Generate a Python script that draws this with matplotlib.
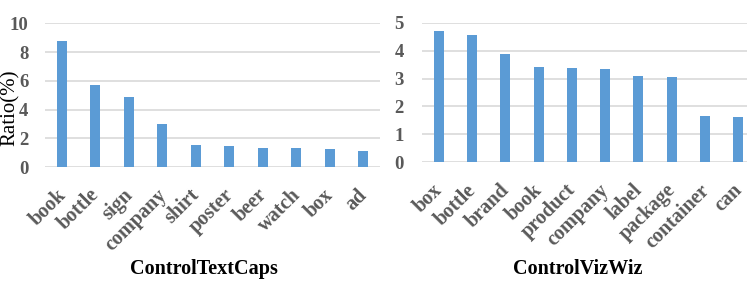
import matplotlib
matplotlib.use("Agg")
import matplotlib.pyplot as plt
from matplotlib.transforms import ScaledTranslation

left_cats = ["book", "bottle", "sign", "company", "shirt", "poster", "beer", "watch", "box", "ad"]
left_vals = [8.77, 5.70, 4.84, 2.98, 1.51, 1.49, 1.35, 1.33, 1.26, 1.12]
right_cats = ["box", "bottle", "brand", "book", "product", "company", "label", "package", "container", "can"]
right_vals = [4.70, 4.57, 3.89, 3.40, 3.38, 3.35, 3.08, 3.04, 1.66, 1.63]
left_yticks = [0, 2, 4, 6, 8, 10]
right_yticks = [0, 1, 2, 3, 4, 5]

BAR = "#5b9bd5"
GRID = "#d9d9d9"
TICK = "#595959"
SERIF = ["Liberation Serif", "DejaVu Serif"]

fig = plt.figure(figsize=(7.47, 3.0), dpi=100)

axL = fig.add_axes([45/747, 1-167/300, 335/747, (167-23.3)/300])
axR = fig.add_axes([422/747, 1-162.3/300, 333/747, (162.3-22.7)/300])

def style(ax, cats, vals, yticks, ypad, dx, dy):
    x = list(range(len(cats)))
    ax.bar(x, vals, width=0.3, color=BAR, zorder=3)
    ax.set_xlim(-0.5, len(cats) - 0.5)
    ax.set_ylim(yticks[0], yticks[-1])
    ax.set_yticks(yticks)
    ax.set_yticklabels([str(t) for t in yticks], fontfamily=SERIF, fontweight="bold",
                       fontsize=13.5, color=TICK)
    ax.set_xticks(x)
    ax.set_xticklabels([])
    tr = ax.get_xaxis_transform() + ScaledTranslation(dx/100, dy/100, fig.dpi_scale_trans)
    for xi, c in zip(x, cats):
        ax.text(xi, 0, c, transform=tr, rotation=45, ha="right", va="top",
                rotation_mode="anchor", fontfamily=SERIF, fontweight="bold",
                fontsize=14.5, color=TICK, clip_on=False)
    ax.tick_params(axis="both", length=0)
    ax.tick_params(axis="y", pad=ypad)
    for s in ax.spines.values():
        s.set_visible(False)
    ax.yaxis.grid(True, color=GRID, linewidth=1.2, zorder=0)
    ax.set_axisbelow(True)

style(axL, left_cats, left_vals, left_yticks, 12, -6, -18)
style(axR, right_cats, right_vals, right_yticks, 13, -6, -18)

fig.text(1/747, 1-108/300, "Ratio(%)", rotation=90, ha="left", va="center",
         fontfamily=SERIF, fontsize=15, color="black")
fig.text(204/747, 1-269/300, "ControlTextCaps", ha="center", va="center",
         fontfamily=SERIF, fontweight="bold", fontsize=14.5, color="black")
fig.text(578/747, 1-269/300, "ControlVizWiz", ha="center", va="center",
         fontfamily=SERIF, fontweight="bold", fontsize=14.5, color="black")

fig.savefig("out.png", dpi=100)
